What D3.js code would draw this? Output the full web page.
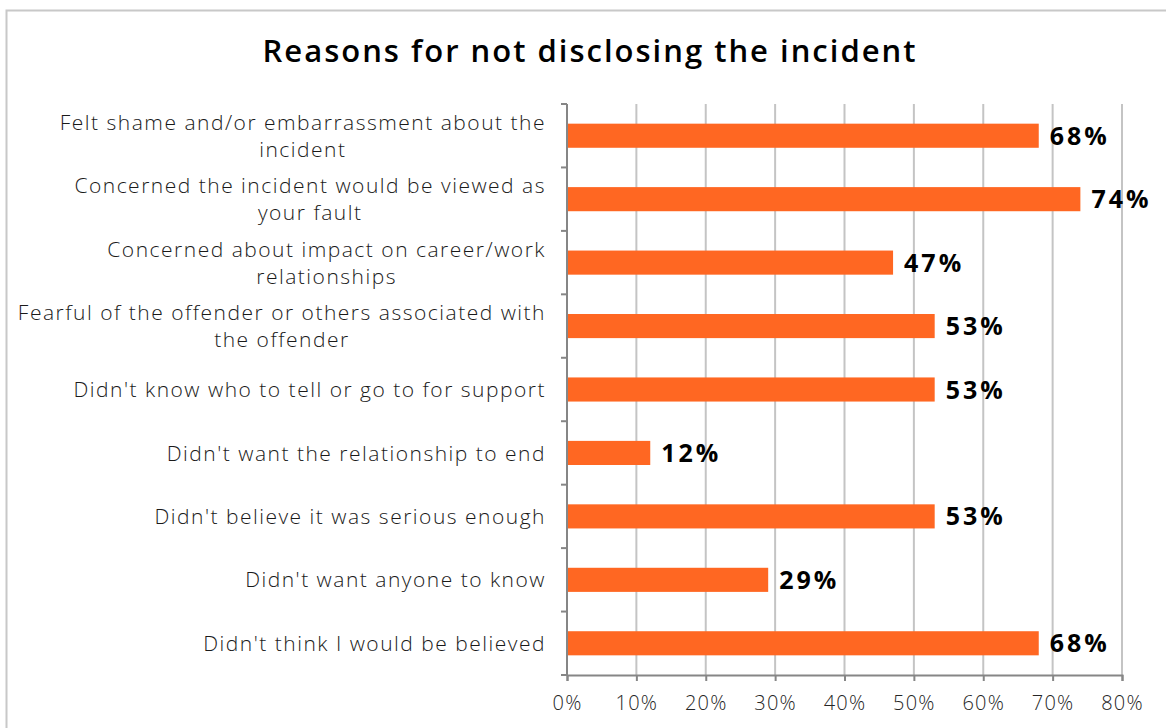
<!DOCTYPE html>
<html>
<head>
<meta charset="utf-8">
<script src="https://cdn.jsdelivr.net/npm/d3@7"></script>
<style>
  html, body { margin: 0; padding: 0; background: #ffffff; }
  svg { display: block; }
</style>
</head>
<body>
<script>
// Survey responses: reasons given for not disclosing an incident
// ("\n" marks where a long category label breaks onto a second line)
const categories = [
  "Felt shame and/or embarrassment about the\nincident",
  "Concerned the incident would be viewed as\nyour fault",
  "Concerned about impact on career/work\nrelationships",
  "Fearful of the offender or others associated with\nthe offender",
  "Didn't know who to tell or go to for support",
  "Didn't want the relationship to end",
  "Didn't believe it was serious enough",
  "Didn't want anyone to know",
  "Didn't think I would be believed"
];
const values = [0.68, 0.74, 0.47, 0.53, 0.53, 0.12, 0.53, 0.29, 0.68];
const xTicks = [0, 0.1, 0.2, 0.3, 0.4, 0.5, 0.6, 0.7, 0.8];
const title = "Reasons for not disclosing the incident";

const FONT = "'Open Sans', sans-serif";
const W = 1166, H = 728;
const margin = { left: 567, right: 44, top: 104, bottom: 53 };
const plotW = W - margin.left - margin.right;
const plotH = H - margin.top - margin.bottom;

const svg = d3.select("body").append("svg")
  .attr("width", W).attr("height", H);

// chart frame
svg.append("rect")
  .attr("x", 6.5).attr("y", 10.5)
  .attr("width", W + 20).attr("height", H + 20)
  .attr("fill", "#fff").attr("stroke", "#c8c8c8").attr("stroke-width", 2);

svg.append("text")
  .attr("x", 590).attr("y", 62)
  .attr("text-anchor", "middle")
  .attr("font-family", FONT)
  .attr("font-weight", 600)
  .attr("font-size", 31)
  .attr("letter-spacing", 2)
  .attr("fill", "#000")
  .text(title);

const x = d3.scaleLinear().domain([0, 0.8]).range([0, plotW]);
const y = d3.scaleBand().domain(categories).range([0, plotH]).paddingInner(0.62).paddingOuter(0.31);

const g = svg.append("g").attr("transform", `translate(${margin.left},${margin.top})`);

// vertical gridlines
g.append("g").selectAll("line").data(xTicks.slice(1)).join("line")
  .attr("x1", d => x(d)).attr("x2", d => x(d))
  .attr("y1", 0).attr("y2", plotH)
  .attr("stroke", "#c4c4c4").attr("stroke-width", 2);

// bars
g.append("g").selectAll("rect").data(values).join("rect")
  .attr("x", 0)
  .attr("y", (d, i) => y(categories[i]))
  .attr("width", d => x(d))
  .attr("height", y.bandwidth())
  .attr("fill", "#FF6722");

// value labels
g.append("g").selectAll("text").data(values).join("text")
  .attr("x", d => x(d) + 11)
  .attr("y", (d, i) => y(categories[i]) + y.bandwidth() / 2)
  .attr("dy", "0.36em")
  .attr("font-family", FONT)
  .attr("font-weight", 700)
  .attr("font-size", 25)
  .attr("letter-spacing", 3)
  .attr("fill", "#000")
  .text(d => d3.format(".0%")(d));

// x axis
const xAxis = g.append("g")
  .attr("transform", `translate(0,${plotH})`)
  .call(d3.axisBottom(x).tickValues(xTicks).tickFormat(d3.format(".0%")).tickSizeOuter(0).tickSize(6).tickPadding(15));
xAxis.select(".domain").attr("stroke", "#868686").attr("stroke-width", 2);
xAxis.selectAll(".tick line").attr("stroke", "#868686").attr("stroke-width", 2);
xAxis.selectAll(".tick text")
  .attr("font-family", FONT).attr("font-weight", 300).attr("font-size", 20)
  .attr("letter-spacing", 1.2).attr("fill", "#262626");

// y axis: ticks between categories
const yAxis = g.append("g");
yAxis.append("line")
  .attr("x1", 0).attr("x2", 0).attr("y1", 0).attr("y2", plotH)
  .attr("stroke", "#868686").attr("stroke-width", 2);
const step = y.step();
yAxis.selectAll("line.tk").data(d3.range(categories.length + 1)).join("line")
  .attr("class", "tk")
  .attr("x1", -6).attr("x2", 0)
  .attr("y1", i => i === categories.length ? plotH : y(categories[i]) - y.paddingOuter() * step)
  .attr("y2", i => i === categories.length ? plotH : y(categories[i]) - y.paddingOuter() * step)
  .attr("stroke", "#868686").attr("stroke-width", 2);

// category labels: lines centred on each other, block right-aligned beside the axis
const labelRight = margin.left - 21;
const lineH = 27;
const labels = svg.append("g").attr("font-family", FONT).attr("font-size", 21)
  .attr("font-weight", 300).attr("letter-spacing", 1.5).attr("fill", "#1a1a1a");

categories.forEach(cat => {
  const lines = cat.split("\n");
  const probe = labels.append("text").attr("visibility", "hidden");
  const widths = lines.map(l => { probe.text(l); return probe.node().getComputedTextLength(); });
  probe.remove();
  const blockW = d3.max(widths);
  const cx = labelRight - blockW / 2;
  const cy = margin.top + y(cat) + y.bandwidth() / 2;
  const t = labels.append("text").attr("text-anchor", "middle");
  lines.forEach((l, j) => {
    t.append("tspan").attr("x", cx)
      .attr("y", cy + (j - (lines.length - 1) / 2) * lineH)
      .attr("dy", "0.36em")
      .text(l);
  });
});
</script>
</body>
</html>
